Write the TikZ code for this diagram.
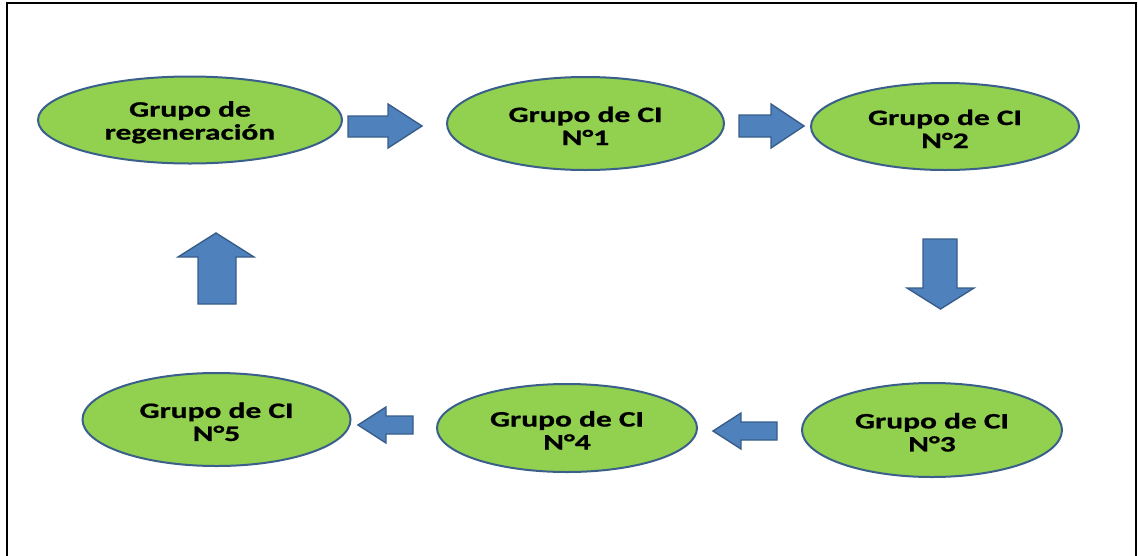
\documentclass[tikz,border=0pt]{standalone}
\usepackage{fontspec}
\newfontfamily\lbl{Carlito}[FakeStretch=1.43,FakeBold=0.8]
\usetikzlibrary{shapes.geometric}
\definecolor{okgreen}{HTML}{92D050}
\definecolor{okline}{HTML}{3A5F8B}
\definecolor{arrfill}{HTML}{4F81BD}
\definecolor{arrline}{HTML}{385D8A}
\newcommand\topstrut{\rule{0pt}{20pt}}
\tikzset{
  grp/.style={ellipse, draw=okline, line width=2pt, fill=okgreen, inner sep=0pt,
    align=center, text=black, font=\lbl\bfseries\fontsize{22}{23}\selectfont},
  blockarr/.style={fill=arrfill, draw=arrline, line width=1.4pt, line join=miter}
}
\begin{document}
\begin{tikzpicture}[x=1pt,y=-1pt]
\useasboundingbox (0,0) rectangle (1138,555);
% frame
\draw[line width=2pt] (6.7,560) -- (6.7,3.3) -- (1136,3.3) -- (1136,560);
% nodes
\node[grp, minimum width=304pt, minimum height=87pt] (r) at (190,120) {\topstrut Grupo de\\regeneración};
\node[grp, minimum width=277pt, minimum height=93pt] (c1) at (585.5,123.5) {\topstrut Grupo de CI\\N°1};
\node[grp, minimum width=268pt, minimum height=87pt] (c2) at (945,126.5) {\topstrut Grupo de CI\\N°2};
\node[grp, minimum width=260pt, minimum height=94pt] (c3) at (932,430) {\topstrut Grupo de CI\\N°3};
\node[grp, minimum width=260pt, minimum height=88pt] (c4) at (567,428) {\topstrut Grupo de CI\\N°4};
\node[grp, minimum width=268pt, minimum height=93pt] (c5) at (216.5,419.5) {\topstrut Grupo de CI\\N°5};
% block arrows
% r -> c1
\draw[blockarr] (348,116) -- (388,116) -- (388,104) -- (422,126) -- (388,148) -- (388,137) -- (348,137) -- cycle;
% c1 -> c2
\draw[blockarr] (739,115) -- (771,115) -- (771,104) -- (804,126) -- (771,148) -- (771,137) -- (739,137) -- cycle;
% c2 -> c3
\draw[blockarr] (923,239) -- (957,239) -- (957,288) -- (974,288) -- (940.5,309) -- (907,288) -- (923,288) -- cycle;
% c3 -> c4
\draw[blockarr] (777,422) -- (741,422) -- (741,413) -- (713,431) -- (741,449) -- (741,440) -- (777,440) -- cycle;
% c4 -> c5
\draw[blockarr] (413,416) -- (386,416) -- (386,407) -- (358,425) -- (386,443) -- (386,434) -- (413,434) -- cycle;
% c5 -> r
\draw[blockarr] (198,304) -- (198,257) -- (178,257) -- (216,233) -- (254,257) -- (236,257) -- (236,304) -- cycle;
\end{tikzpicture}
\end{document}
